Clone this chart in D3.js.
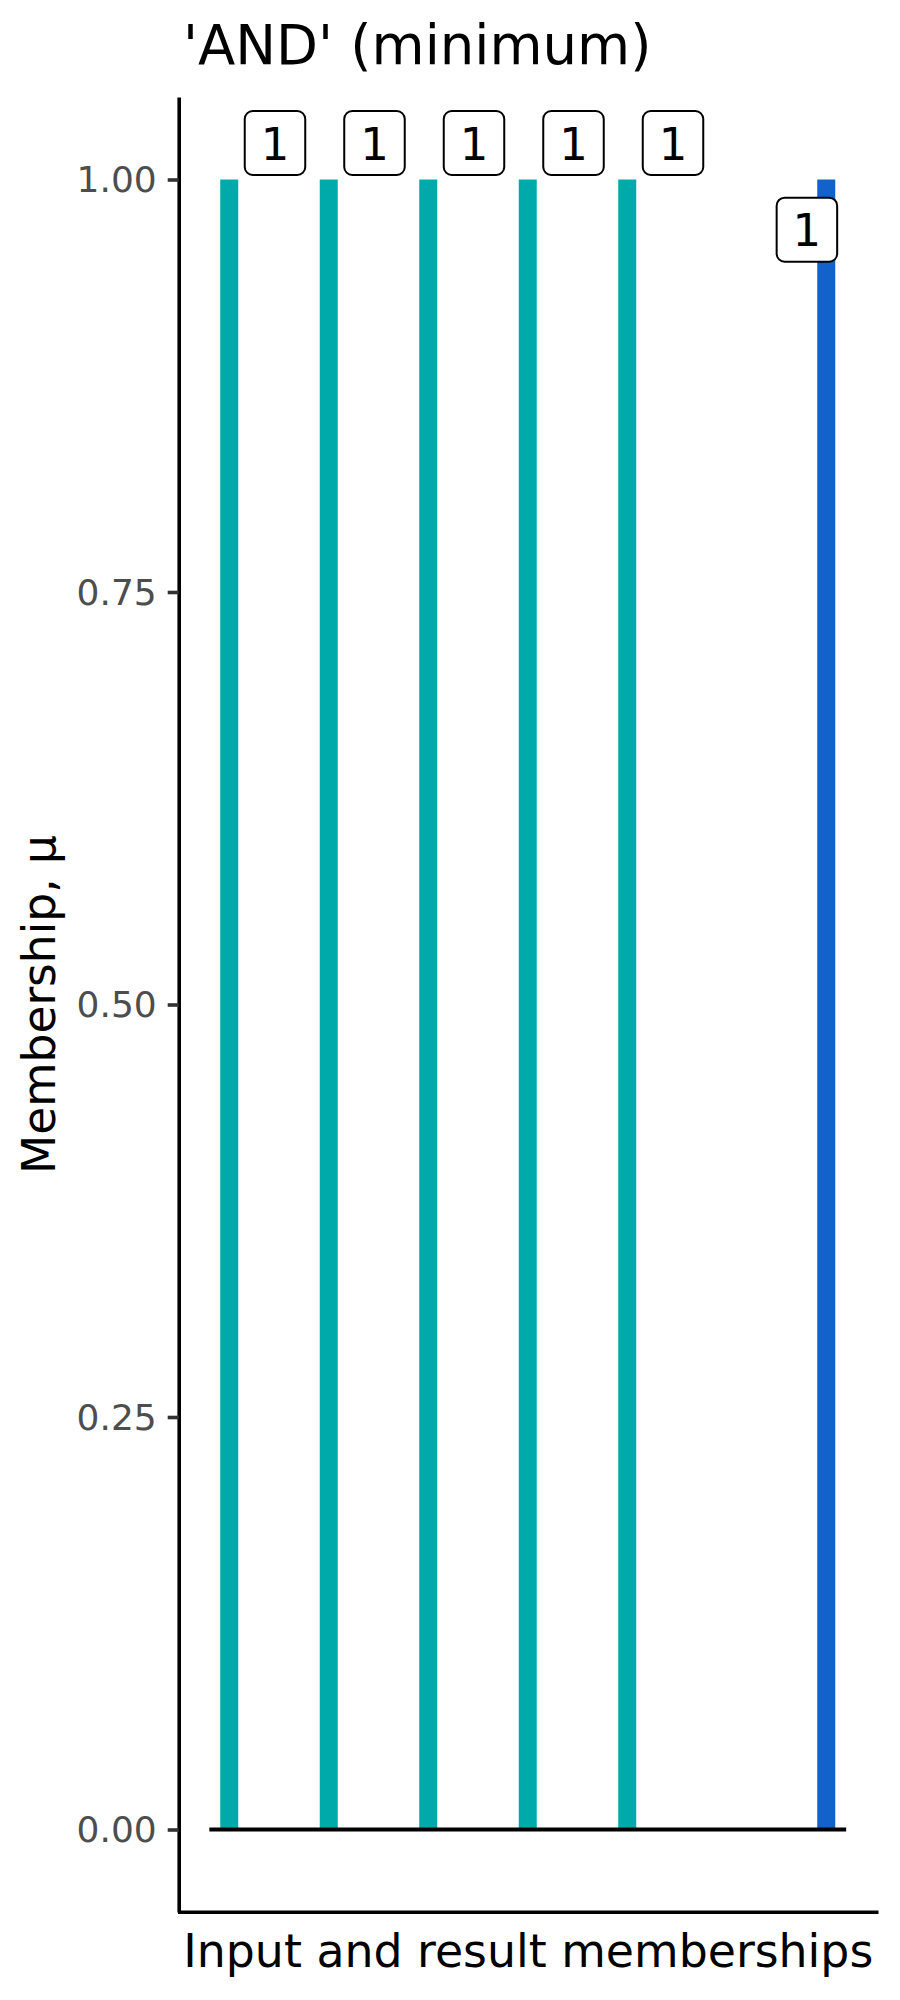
<!DOCTYPE html>
<html>
<head>
<meta charset="utf-8">
<script src="https://cdn.jsdelivr.net/npm/d3@7"></script>
<style>
  html, body { margin: 0; padding: 0; background: #fff; }
  svg { display: block; font-family: "DejaVu Sans", sans-serif; }
</style>
</head>
<body>
<svg id="chart" width="900" height="2000"></svg>
<script>
// ---- data ----
const positions = [1, 2, 3, 4, 5, 7];
const memberships = [1, 1, 1, 1, 1, 1];
const kinds = ["input", "input", "input", "input", "input", "result"];
const labels = ["1", "1", "1", "1", "1", "1"];
const yTicks = [0, 0.25, 0.5, 0.75, 1];
const baselineRange = [0.8, 7.2];
const titleText = "'AND' (minimum)";
const xTitle = "Input and result memberships";
const yTitle = "Membership, \u03bc";

const colors = { input: "#00AAAA", result: "#1262CB" };

const svg = d3.select("#chart");
const panel = { left: 177.5, right: 878, top: 97, bottom: 1912 };

const x = d3.scaleLinear().domain([0.48, 7.52]).range([panel.left, panel.right]);
const y = d3.scaleLinear().domain([-0.05, 1.05]).range([panel.bottom, panel.top]);

const data = positions.map((p, i) => ({ x: p, v: memberships[i], kind: kinds[i], label: labels[i] }));

// bars
const barW = 18;
svg.append("g").selectAll("rect").data(data).join("rect")
  .attr("x", d => x(d.x) - barW / 2)
  .attr("width", barW)
  .attr("y", d => y(d.v))
  .attr("height", d => y(0) - y(d.v))
  .attr("fill", d => colors[d.kind]);

// zero baseline segment
svg.append("line")
  .attr("x1", x(baselineRange[0])).attr("x2", x(baselineRange[1]))
  .attr("y1", y(0)).attr("y2", y(0))
  .attr("stroke", "#000").attr("stroke-width", 4);

// y axis
const yAxis = d3.axisLeft(y).tickValues(yTicks).tickFormat(d3.format(".2f"))
  .tickSize(11).tickSizeOuter(0).tickPadding(11);
const gy = svg.append("g").attr("transform", `translate(${panel.left + 1.2},0)`).call(yAxis);
gy.select(".domain").attr("stroke", "#000").attr("stroke-width", 3.6);
gy.selectAll(".tick line").attr("stroke", "#333333").attr("stroke-width", 3.6);
gy.selectAll(".tick text").attr("fill", "#4D4D4D").attr("font-size", 36)
  .attr("font-family", "DejaVu Sans").attr("dy", "0.34em");

// x axis (no ticks)
const xAxis = d3.axisBottom(x).tickValues([]).tickSizeOuter(0);
const gx = svg.append("g").attr("transform", `translate(0,${panel.bottom - 0.3})`).call(xAxis);
gx.select(".domain").attr("stroke", "#000").attr("stroke-width", 3.6);

// labels
const boxW = 60.5, boxH = 64, rx = 8;
function boxPos(d) {
  if (d.kind === "input") {
    return { left: x(d.x) + 15.5, top: y(d.v) - 4.5 - boxH };
  }
  return { left: x(d.x) - 49.6, top: y(d.v) + 18.2 };
}
const lg = svg.append("g").selectAll("g").data(data).join("g")
  .attr("transform", d => { const b = boxPos(d); return `translate(${b.left},${b.top})`; });
lg.append("rect")
  .attr("width", boxW).attr("height", boxH).attr("rx", rx).attr("ry", rx)
  .attr("fill", "#fff").attr("stroke", "#000").attr("stroke-width", 2);
lg.append("text")
  .attr("x", boxW / 2).attr("y", boxH / 2 + 16.5)
  .attr("text-anchor", "middle").attr("font-size", 45).attr("fill", "#000")
  .text(d => d.label);

// titles
svg.append("text").attr("x", 183).attr("y", 64)
  .attr("font-size", 54.5).attr("fill", "#000").text(titleText);

svg.append("text").attr("x", (panel.left + panel.right) / 2 + 0.5).attr("y", 1967)
  .attr("text-anchor", "middle").attr("font-size", 45.8).attr("fill", "#000").text(xTitle);

svg.append("text")
  .attr("transform", `translate(55,${(panel.top + panel.bottom) / 2}) rotate(-90)`)
  .attr("text-anchor", "middle").attr("font-size", 45.5).attr("fill", "#000").text(yTitle);
</script>
</body>
</html>
